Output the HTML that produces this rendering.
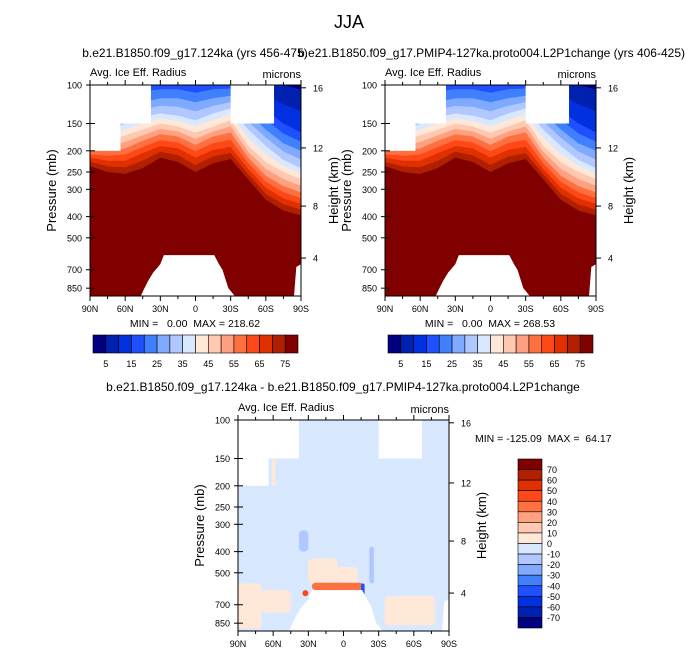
<!DOCTYPE html>
<html><head><meta charset="utf-8"><style>
html,body{margin:0;padding:0;background:#fff;}
svg{display:block;font-family:"Liberation Sans",Arial,sans-serif;}
text{white-space:pre;}
</style></head><body>
<svg id="fig" width="699" height="654" viewBox="0 0 699 654" xmlns="http://www.w3.org/2000/svg">
<text x="349" y="28" font-size="18" text-anchor="middle">JJA</text>
</svg>
<script>
// ---- data ----
const lats = [90,75,60,45,30,15,0,-15,-30,-45,-60,-75,-90];
const p5  = [90,90,85,80,80,80,80,80,85,90,95,100,105];
const p15 = [120,120,100,95,95,95,98,95,96,115,130,150,165];
const p25 = [150,150,130,120,115,115,120,115,112,135,160,185,200];
const p35 = [170,165,150,140,135,138,145,135,128,160,190,220,240];
const p45 = [185,180,170,160,150,155,165,155,145,190,225,250,270];
const p55 = [200,200,195,180,168,172,188,172,165,215,260,290,310];
const p65 = [215,222,222,205,190,195,215,198,192,242,295,330,350];
const p75 = [235,250,255,240,215,225,250,228,218,270,335,375,395];
const surfLat = [47,44,40,36,34,30,27,-16,-20,-23,-28,-34];
const surfP   = [930,860,780,720,700,660,600,600,660,700,850,930];
const surfLat2 = [-84,-86,-90,-90];
const surfP2   = [930,680,660,930];
const barTicks = ["5","15","25","35","45","55","65","75"];
const diffTicks = ["70","60","50","40","30","20","10","0","-10","-20","-30","-40","-50","-60","-70"];
const pTicks = [100,150,200,250,300,400,500,700,850];
const hTicks = [16,12,8,4];
const hTickP = [103,194,358,619];
const latTicks = [90,60,30,0,-30,-60,-90];
const latLabels = ["90N","60N","30N","0","30S","60S","90S"];
// diff patches: [lat1, lat2, pTop, pBot, colorIndex]
const diffPatches = [
 [90,70,560,900,8],[70,45,600,760,8],[30,5,430,560,8],[5,-12,470,560,8],[-35,-78,640,870,8],
 [38,30,320,400,6],[61,58,150,200,8],[27,-17,555,600,11],[35,30,600,640,12],[-15,-18,560,650,3],[-22,-26,380,560,6]
];
const colors = ["#000080","#0020b0","#0030e0","#1f50ff","#4080ff","#80aaff","#b0c8ff","#d8e8ff","#ffe8d8","#ffc8b0","#ffa080","#ff7040","#ff4818","#e03000","#b02000","#800000"];
const NS="http://www.w3.org/2000/svg";
const svg=document.getElementById('fig');
function el(tag,attrs,parent){const e=document.createElementNS(NS,tag);for(const k in attrs)e.setAttribute(k,attrs[k]);(parent||svg).appendChild(e);return e;}
const W=211,H=211,PB=923;
function mkAxes(x0,y0){return {x:l=>x0+(90-l)/180*W,y:p=>y0+Math.log(p/100)/Math.log(PB/100)*H};}
function txt(x,y,s,size,anchor,name,parent){const t=el('text',{x:x,y:y,'font-size':size,'text-anchor':anchor||'start'},parent);t.textContent=s;return t;}
let clipId=0;
function frame(x0,y0){
 const A=mkAxes(x0,y0);
 const g=el('g',{});
 
 
 el('rect',{x:x0,y:y0,width:W,height:H,fill:'none',stroke:'#000','stroke-width':1},g);
 pTicks.forEach(p=>{const y=A.y(p);el('line',{x1:x0,x2:x0+5,y1:y,y2:y,stroke:'#000'},g);el('line',{x1:x0,x2:x0-4,y1:y,y2:y,stroke:'#000'},g);txt(x0-8,y+3.5,String(p),9,'end','pressure-tick-label',g);});
 for(let l=90;l>=-90;l-=15){const x=A.x(l);el('line',{x1:x,x2:x,y1:y0+H,y2:y0+H+(l%30===0?5:3),stroke:'#000'},g);el('line',{x1:x,x2:x,y1:y0,y2:y0-(l%30===0?5:3),stroke:'#000'},g);}
 latTicks.forEach((l,i)=>txt(A.x(l),y0+H+16,latLabels[i],9,'middle','latitude-tick-label',g));
 hTicks.forEach((h,i)=>{const y=A.y(hTickP[i]);el('line',{x1:x0+W,x2:x0+W+5,y1:y,y2:y,stroke:'#000'},g);txt(x0+W+12,y+3.5,String(h),9,'start','height-tick-label',g);});
 const t1=txt(x0-34,y0+H/2,'Pressure (mb)',13,'middle','y-axis-title',g);t1.setAttribute('transform',`rotate(-90 ${x0-34} ${y0+H/2})`);
 const t2=txt(x0+W+37,y0+H/2,'Height (km)',13,'middle','right-axis-title',g);t2.setAttribute('transform',`rotate(-90 ${x0+W+37} ${y0+H/2})`);
 txt(x0,y0-9,'Avg. Ice Eff. Radius',11,'start','variable-label',g);
 txt(x0+W,y0-7,'microns',11,'end','units-label',g);
 return A;
}
function clip(x0,y0){const id='c'+(clipId++);const cp=el('clipPath',{id:id});el('rect',{x:x0,y:y0,width:W,height:H},cp);return id;}
function poly(g,A,la,pa){let d='';la.forEach((l,i)=>{d+=(i?'L':'M')+A.x(l)+','+A.y(pa[i]);});const s=el('path',{d:d+'Z',fill:'#fff'},g);return s;}
function masks(g,A){
 const m=[[90,38,100,150],[90,64,150,200],[-30,-67,100,150]];
 m.forEach(r=>{const rc=el('rect',{x:A.x(r[0]),y:A.y(r[2]),width:A.x(r[1])-A.x(r[0]),height:A.y(r[3])-A.y(r[2]),fill:'#fff'},g);});
 const s=poly(g,A,surfLat,surfP);
 
 
 const s2=poly(g,A,surfLat2,surfP2);
 
 
}
const arrs=[p5,p15,p25,p35,p45,p55,p65,p75];
function fieldPanel(x0,y0,name){
 const A=mkAxes(x0,y0);
 const g=el('g',{'clip-path':`url(#${clip(x0,y0)})`});
 
 
 const bg=el('rect',{x:x0,y:y0,width:W,height:H,fill:colors[0]},g);
 
 
 for(let k=0;k<15;k++){
  const lo=Math.floor(k/2),hi=Math.min(lo+1,7),f=(k%2)/2;
  const pts=lats.map((l,i)=>{const a=arrs[lo][i],b=arrs[hi][i];const p=Math.exp(Math.log(a)*(1-f)+Math.log(b)*f);return [A.x(l),A.y(p)];});
  let d='M'+pts.map(q=>q.join(',')).join('L')+`L${x0+W},${y0+H+5}L${x0},${y0+H+5}Z`;
  const b=el('path',{d:d,fill:colors[k+1]},g);
  
  
 }
 masks(g,A);
 frame(x0,y0);
}
function colorbarH(x0,y0,w,h){
 const g=el('g',{});
 
 
 const bw=w/16;
 colors.forEach((c,i)=>{const r=el('rect',{x:x0+i*bw,y:y0,width:bw,height:h,fill:c,stroke:'#000','stroke-width':0.6},g);});
 barTicks.forEach((t,i)=>txt(x0+bw*(1+2*i),y0+h+14,t,9,'middle','colorbar-label',g));
}
fieldPanel(90,85,'contour-plot-124ka');
fieldPanel(385,85,'contour-plot-127ka');
txt(195,57,'b.e21.B1850.f09_g17.124ka (yrs 456-475)',12,'middle','panel-title-left');
txt(685,57,'b.e21.B1850.f09_g17.PMIP4-127ka.proto004.L2P1change (yrs 406-425)',12,'end','panel-title-right');
txt(195,327,'MIN =   0.00  MAX = 218.62',10.5,'middle','min-max-left');
txt(490,327,'MIN =   0.00  MAX = 268.53',10.5,'middle','min-max-right');
colorbarH(93,335,205,18);
colorbarH(388,335,205,18);
(function(){
 const x0=238,y0=420;const A=mkAxes(x0,y0);
 const g=el('g',{'clip-path':`url(#${clip(x0,y0)})`});
 
 
 el('rect',{x:x0,y:y0,width:W,height:H,fill:colors[7]},g);
 diffPatches.forEach(p=>{const x1=A.x(p[0]),x2=A.x(p[1]),y1=A.y(p[2]),y2=A.y(p[3]);
  const r=el('rect',{x:x1,y:y1,width:x2-x1,height:y2-y1,rx:Math.min(4,(x2-x1)/2),fill:colors[p[4]]},g);
  
  });
 masks(g,A);
 frame(x0,y0);
})();
txt(343,391,'b.e21.B1850.f09_g17.124ka - b.e21.B1850.f09_g17.PMIP4-127ka.proto004.L2P1change',12,'middle','difference-title');
txt(475,442,'MIN = -125.09  MAX =  64.17',10.5,'start','min-max-diff');
(function(){
 const x0=518,y0=459,w=24,h=169,bh=h/16;
 const g=el('g',{});
 
 
 colors.slice().reverse().forEach((c,i)=>{const r=el('rect',{x:x0,y:y0+i*bh,width:w,height:bh,fill:c,stroke:'#000','stroke-width':0.6},g);});
 diffTicks.forEach((t,i)=>txt(x0+w+5,y0+bh*(i+1)+3.5,t,9,'start','colorbar-label',g));
})();
</script>
</body></html>
